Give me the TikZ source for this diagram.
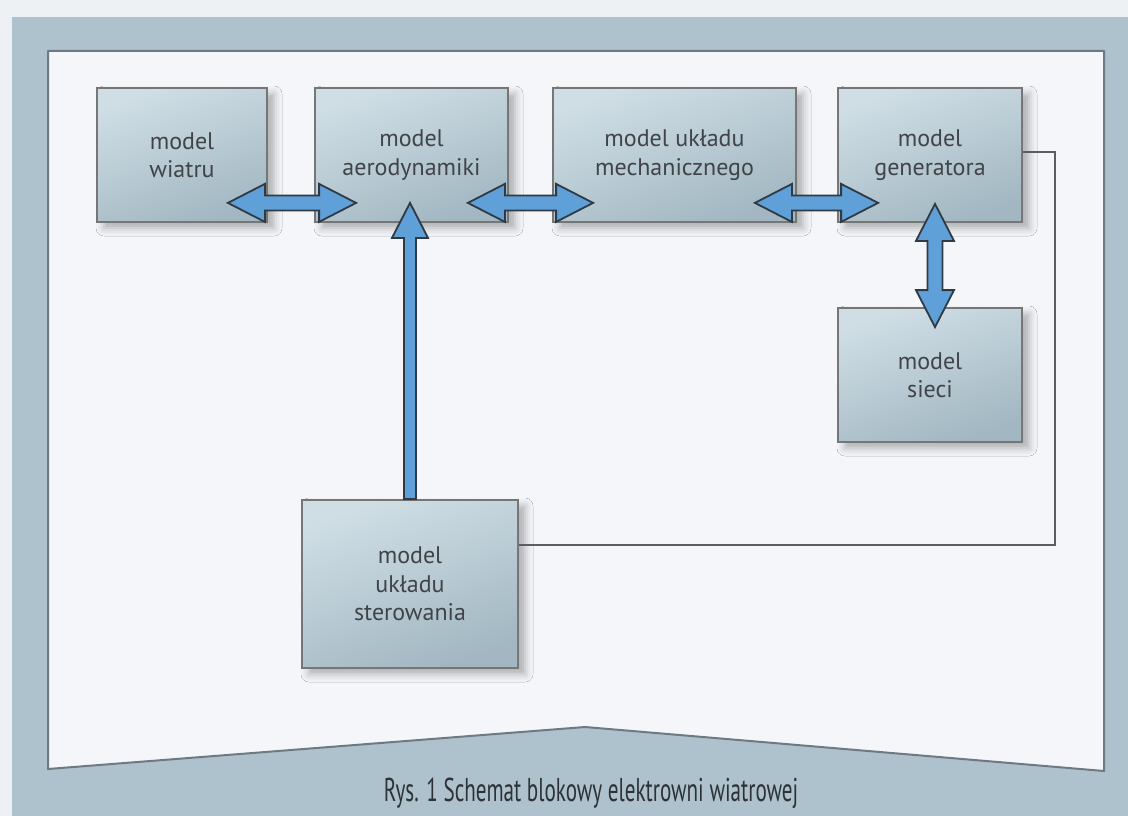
\documentclass[tikz,border=0pt]{standalone}
\usepackage{fontspec}
\setmainfont{PT Sans}
\newfontfamily\capfont[FakeStretch=0.64]{PT Sans}
\usetikzlibrary{calc,shadows.blur}

\definecolor{pagebg}{HTML}{EEF1F4}
\definecolor{frame}{HTML}{ADC2CC}
\definecolor{sheet}{HTML}{F4F6F9}
\definecolor{sheetedge}{HTML}{6D7A82}
\definecolor{boxtop}{HTML}{CFDEE5}
\definecolor{boxbot}{HTML}{A2B7C2}
\definecolor{boxedge}{HTML}{767676}
\definecolor{boxtext}{HTML}{404448}
\definecolor{captext}{HTML}{2E3236}
\definecolor{arrfill}{HTML}{5FA0D8}
\definecolor{arredge}{HTML}{2F3A44}
\definecolor{wire}{HTML}{585E63}

\tikzset{
  block/.style={draw=boxedge, line width=1.8pt, align=center,
    top color=boxtop, bottom color=boxbot, shading angle=20,
    text=boxtext, font=\fontsize{24}{28.5}\selectfont, inner sep=0pt,
    blur shadow={shadow xshift=7pt, shadow yshift=-6pt,
      shadow blur radius=8pt, shadow opacity=30}},
  fatarrow/.style={fill=arrfill, draw=arredge, line width=1.8pt, line join=miter},
  feedback/.style={draw=wire, line width=1.6pt}
}

% fat double-headed arrow between two points
\def\ahl{37pt}\def\ahw{19pt}\def\asw{7.5pt}
\newcommand\dblarrow[2]{%
  \filldraw[fatarrow] (#1)
    -- ($(#1)!\ahl!(#2)!\ahw!90:(#2)$)
    -- ($(#1)!\ahl!(#2)!\asw!90:(#2)$)
    -- ($(#2)!\ahl!(#1)!\asw!-90:(#1)$)
    -- ($(#2)!\ahl!(#1)!\ahw!-90:(#1)$)
    -- (#2)
    -- ($(#2)!\ahl!(#1)!\ahw!90:(#1)$)
    -- ($(#2)!\ahl!(#1)!\asw!90:(#1)$)
    -- ($(#1)!\ahl!(#2)!\asw!-90:(#2)$)
    -- ($(#1)!\ahl!(#2)!\ahw!-90:(#2)$)
    -- cycle;}
% fat single-headed arrow from #1 to #2
\newcommand\onearrow[2]{%
  \filldraw[fatarrow] ($(#1)!6pt!90:(#2)$)
    -- ($(#2)!35pt!(#1)!6pt!-90:(#1)$)
    -- ($(#2)!35pt!(#1)!18pt!-90:(#1)$)
    -- (#2)
    -- ($(#2)!35pt!(#1)!18pt!90:(#1)$)
    -- ($(#2)!35pt!(#1)!6pt!90:(#1)$)
    -- ($(#1)!6pt!-90:(#2)$)
    -- cycle;}

\begin{document}
\begin{tikzpicture}[x=1pt, y=-1pt]
\useasboundingbox (0,0) rectangle (1128,816);
% page, frame and sheet
\fill[pagebg] (0,0) rectangle (1128,816);
\fill[frame] (12,17) rectangle (1128,816);
\filldraw[fill=sheet, draw=sheetedge, line width=2pt, line join=round]
  (48,51) -- (1104,51) -- (1104,771) -- (585,727) -- (48,769) -- cycle;

% blocks
\node[block, minimum width=170pt, minimum height=134pt] (wiatr) at (182,155) {model\\wiatru};
\node[block, minimum width=193pt, minimum height=134pt] (aero) at (411.5,155) {model\\aerodynamiki};
\node[block, minimum width=243pt, minimum height=134pt] (mech) at (674.5,155) {model układu\\mechanicznego};
\node[block, minimum width=184pt, minimum height=134pt] (gen) at (930,155) {model\\generatora};
\node[block, minimum width=184pt, minimum height=134pt] (siec) at (930,375) {model\\sieci};
\node[block, minimum width=216pt, minimum height=168pt] (ster) at (410,584) {model\\układu\\sterowania};

% arrow end points
\coordinate (w1) at ($(wiatr.south east)+(-40,-20)$);
\coordinate (a1) at ($(aero.south west)+(42,-20)$);
\coordinate (a2) at ($(aero.south east)+(-41,-20)$);
\coordinate (m1) at ($(mech.south west)+(41,-20)$);
\coordinate (m2) at ($(mech.south east)+(-42,-20)$);
\coordinate (g1) at ($(gen.south west)+(41,-20)$);
\coordinate (g2) at ($(gen.south)+(5,-19)$);
\coordinate (s1) at ($(siec.north)+(5,20)$);
\coordinate (a3) at ($(aero.south)+(-1.5,-20)$);
\coordinate (st) at (ster.north);
\coordinate (fb) at ($(ster.north east)+(0,46)$);

% connectors
\dblarrow{w1}{a1}
\dblarrow{a2}{m1}
\dblarrow{m2}{g1}
\dblarrow{g2}{s1}
\onearrow{st}{a3}
\draw[feedback] ($(gen.east)+(0,-3)$) -- ++(32,0) |- (fb);

% caption
\node[text=captext, font=\capfont\fontsize{33}{36}\selectfont] (cap) at (591,793)
  {Rys. 1 Schemat blokowy elektrowni wiatrowej};
\end{tikzpicture}
\end{document}
